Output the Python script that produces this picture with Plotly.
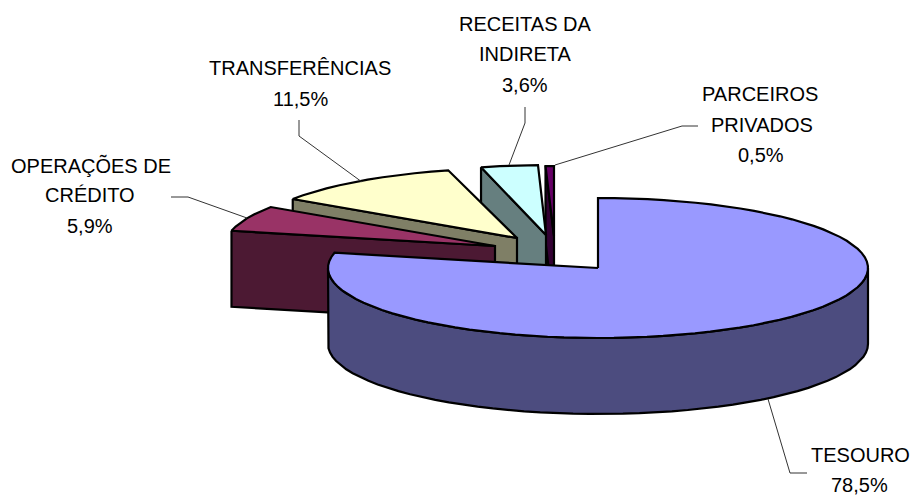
import numpy as np
import plotly.graph_objects as go

# --- data ---
categories = ["TESOURO", "OPERAÇÕES DE CRÉDITO", "TRANSFERÊNCIAS", "RECEITAS DA INDIRETA", "PARCEIROS PRIVADOS"]
values = [78.5, 5.9, 11.5, 3.6, 0.5]
label_lines = [["TESOURO"], ["OPERAÇÕES DE", "CRÉDITO"], ["TRANSFERÊNCIAS"], ["RECEITAS DA", "INDIRETA"], ["PARCEIROS", "PRIVADOS"]]

# --- styling and layout of the projected pie ---
top_colors = ["#9999FF", "#993366", "#FFFFCC", "#CCFFFF", "#660066"]
side_colors = ["#4C4C7F", "#4C1933", "#7F7F66", "#667F7F", "#330033"]
apex_x = [598, 495, 517, 546, 554]
apex_y = [268, 246, 238, 235, 236]
radius_x = [270, 270, 270, 255, 270]
RY, DEPTH = 70, 76
STEP = 3.5
draw_order = [4, 3, 2, 1, 0]

label_x = [[860, 859], [91, 90, 90], [300, 300], [525, 525, 525], [760, 762, 761]]
label_y = [[455, 485], [165, 195, 226], [68, 99], [24, 54, 85], [94, 125, 155]]
leader_x = [[768, 790, 807], [247, 188, 171], [362, 299, 299], [509, 525, 525], [555, 682, 698]]
leader_y = [[399, 473, 473], [218, 197, 197], [182, 136, 120], [165, 123, 107], [165, 126, 126]]

fractions = np.array(values) / sum(values)
ends = np.cumsum(fractions) * 360
starts = np.concatenate([[0], ends[:-1]])


def arc(cx, cy, rx, a0, a1):
    n = max(2, int(abs(a1 - a0) / STEP) + 1)
    t = np.radians(np.linspace(a0, a1, n))
    return cx + rx * np.sin(t), cy - RY * np.cos(t)


def poly(fig, x, y, color):
    fig.add_trace(go.Scatter(
        x=np.append(x, x[0]), y=np.append(y, y[0]), mode="lines", fill="toself",
        fillcolor=color, line=dict(color="#000000", width=2.2, shape="linear"),
        hoverinfo="skip", showlegend=False, cliponaxis=False))


fig = go.Figure()
for i in draw_order:
    cx, cy, rx, a0, a1 = apex_x[i], apex_y[i], radius_x[i], starts[i], ends[i]
    if a1 - a0 > 180:
        # round slice: front wall of the cylinder
        ax, ay = arc(cx, cy, rx, 90, 270)
        poly(fig, np.concatenate([ax, ax[::-1]]), np.concatenate([ay, ay[::-1] + DEPTH]), side_colors[i])
    else:
        # exploded slice: the cut face turned towards the viewer
        sx, sy = arc(cx, cy, rx, a0, a0)
        sx, sy = sx[0], sy[0]
        poly(fig, np.array([sx, cx, cx, sx]), np.array([sy, cy, cy + DEPTH, sy + DEPTH]), side_colors[i])
    ax, ay = arc(cx, cy, rx, a0, a1)
    poly(fig, np.concatenate([[cx], ax]), np.concatenate([[cy], ay]), top_colors[i])

for lx, ly in zip(leader_x, leader_y):
    fig.add_trace(go.Scatter(x=lx, y=ly, mode="lines", line=dict(color="#333333", width=1),
                             hoverinfo="skip", showlegend=False, cliponaxis=False))

for i, lines in enumerate(label_lines):
    texts = lines + [f"{values[i]:.1f}%".replace(".", ",")]
    for t, x, y in zip(texts, label_x[i], label_y[i]):
        fig.add_annotation(x=x, y=y, text=t, showarrow=False, xanchor="center", yanchor="middle",
                           font=dict(family="Liberation Sans", size=20, color="#000000"))

fig.update_layout(
    width=912, height=495, margin=dict(l=0, r=0, t=0, b=0),
    paper_bgcolor="#FFFFFF", plot_bgcolor="#FFFFFF", showlegend=False,
    xaxis=dict(range=[0, 912], visible=False, fixedrange=True),
    yaxis=dict(range=[495, 0], visible=False, fixedrange=True),
)
fig.write_html("out.html", config={"displayModeBar": False},
               post_script="document.body.style.margin='0';document.body.style.overflow='hidden';")
